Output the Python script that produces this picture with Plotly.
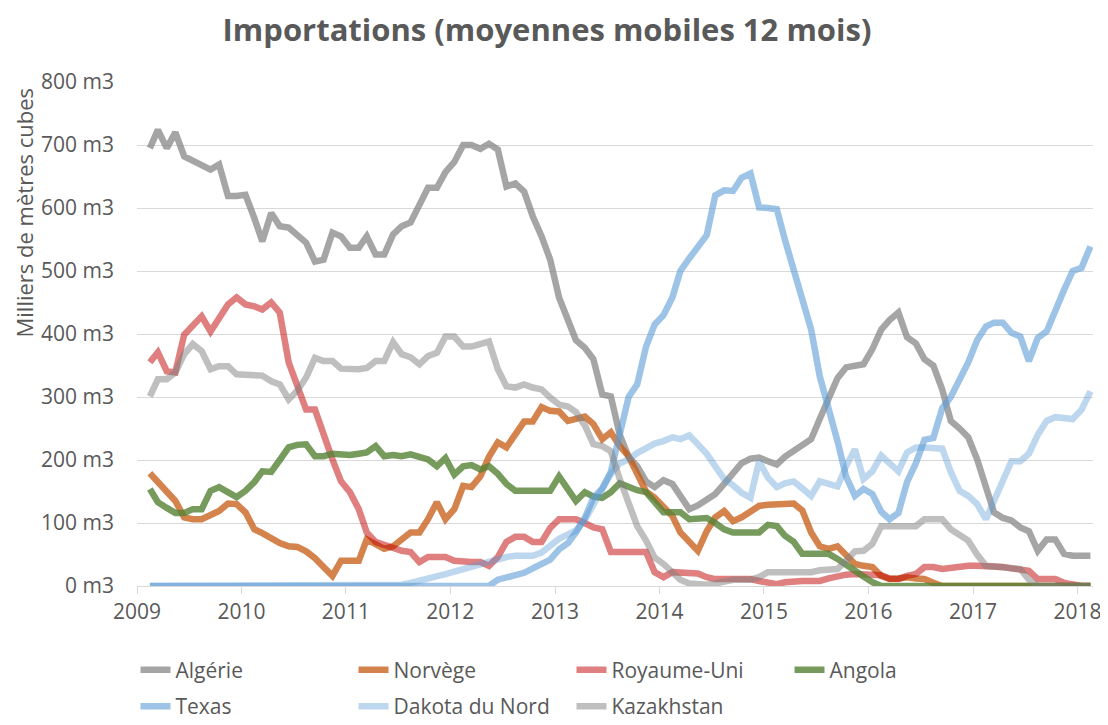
import pandas as pd
import plotly.graph_objects as go

# Monthly 12-month moving averages, Feb 2009 .. Feb 2018 (thousands of m3)
months = pd.date_range("2009-02-01", periods=109, freq="MS") + pd.Timedelta(days=14)

algerie = [695, 724, 695, 720, 682, 675, 669, 661, 669, 619, 619, 621, 584, 547, 592, 571, 569, 558, 545, 515,
           518, 561, 555, 537, 537, 555, 526, 526, 558, 571, 577, 605, 632, 632, 657, 673, 700, 700, 694, 702,
           693, 634, 639, 626, 587, 555, 518, 458, 422, 390, 378, 360, 304, 301, 240, 205, 190, 166, 157, 168,
           162, 145, 122, 128, 137, 146, 162, 178, 195, 202, 204, 198, 193, 205, 214, 222, 233, 265, 300, 330,
           347, 350, 352, 376, 407, 422, 434, 395, 385, 360, 350, 312, 262, 250, 236, 201, 154, 117, 108, 104,
           93, 87, 56, 74, 74, 51, 48, 48, 48]
norvege = [179, 165, 149, 135, 109, 106, 106, 114, 119, 131, 130, 117, 90, 84, 76, 68, 63, 62, 55, 44,
           30, 16, 40, 40, 40, 74, 67, 59, 63, 74, 85, 85, 106, 133, 106, 122, 159, 157, 174, 205,
           228, 220, 240, 261, 261, 284, 278, 277, 262, 265, 269, 257, 233, 244, 222, 206, 180, 150, 140, 127,
           111, 85, 70, 56, 87, 109, 119, 103, 109, 119, 127, 129, 130, 131, 131, 120, 85, 63, 59, 63,
           48, 35, 32, 30, 16, 11, 12, 14, 12, 11, 5, 0, 0, 0, 0, 0, 0, 0, 0, 0,
           0, 0, 0, 0, 0, 0, 0, 0, 0]
royaume_uni = [355, 371, 341, 339, 399, 415, 428, 404, 423, 447, 458, 447, 444, 439, 450, 434, 355, 315, 280, 280,
               238, 201, 166, 149, 122, 85, 70, 65, 62, 56, 54, 38, 46, 46, 46, 40, 38, 38, 38, 32,
               46, 70, 78, 78, 70, 70, 92, 106, 106, 106, 100, 93, 90, 54, 54, 54, 54, 54, 22, 14,
               22, 22, 22, 20, 14, 11, 11, 11, 11, 11, 8, 5, 3, 6, 8, 8, 8, 8, 12, 16,
               18, 19, 19, 19, 17, 12, 11, 16, 19, 30, 30, 27, 29, 32, 32, 32, 32, 32, 30, 28,
               26, 24, 11, 11, 11, 5, 2, 0, 0]
angola = [154, 133, 124, 116, 116, 122, 122, 151, 157, 150, 141, 151, 165, 182, 181, 200, 220, 224, 225, 206,
          206, 210, 209, 208, 210, 212, 222, 206, 208, 206, 209, 206, 201, 190, 203, 177, 190, 192, 185, 190,
          178, 162, 151, 151, 151, 151, 151, 174, 151, 135, 149, 142, 140, 149, 163, 157, 152, 149, 133, 117,
          117, 117, 106, 108, 108, 100, 90, 85, 85, 85, 85, 97, 95, 80, 70, 51, 51, 51, 51, 43,
          33, 24, 15, 6, 0, 0, 0, 0, 0, 0, 0, 0, 0, 0, 0, 0, 0, 0, 0, 0,
          0, 0, 0, 0, 0, 0, 0, 0, 0]
texas = [0, 0, 0, 0, 0, 0, 0, 0, 0, 0, 0, 0, 0, 0, 0, 0, 0, 0, 0, 0,
         0, 0, 0, 0, 0, 0, 0, 0, 0, 0, 0, 0, 0, 0, 0, 0, 0, 0, 0, 0,
         10, 14, 17, 21, 28, 34, 42, 58, 68, 85, 108, 140, 155, 181, 240, 300, 320, 380, 415, 430,
         458, 500, 520, 540, 557, 620, 628, 627, 648, 655, 601, 600, 598, 550, 500, 455, 407, 333, 283, 230,
         174, 143, 154, 146, 118, 106, 116, 165, 195, 232, 235, 282, 300, 328, 355, 390, 412, 418, 418, 402,
         396, 357, 394, 404, 440, 470, 500, 505, 539]
dakota = [0, 0, 0, 0, 0, 0, 0, 0, 0, 0, 0, 0, 0, 0, 0, 0, 0, 0, 0, 0,
          0, 0, 0, 0, 0, 0, 0, 0, 0, 2, 5, 8, 11, 15, 19, 23, 27, 31, 36, 40,
          43, 46, 48, 48, 48, 53, 65, 75, 82, 88, 105, 128, 155, 178, 195, 201, 211, 220, 226, 230,
          236, 233, 239, 225, 210, 190, 170, 160, 148, 140, 198, 172, 157, 163, 166, 155, 143, 166, 162, 158,
          190, 217, 170, 182, 207, 195, 182, 212, 220, 220, 220, 218, 181, 151, 143, 130, 106, 135, 170, 198,
          198, 210, 240, 262, 268, 267, 265, 280, 309]
kazakhstan = [301, 328, 328, 339, 368, 384, 373, 344, 349, 349, 336, 335, 335, 334, 325, 320, 296, 310, 331, 362,
              357, 357, 345, 344, 344, 346, 357, 357, 387, 368, 363, 352, 365, 370, 396, 396, 380, 380, 383, 388,
              344, 317, 315, 320, 315, 312, 299, 288, 285, 276, 255, 225, 222, 214, 170, 130, 95, 72, 45, 35,
              22, 10, 4, 2, 2, 4, 8, 10, 10, 10, 14, 22, 22, 22, 22, 22, 22, 25, 27, 27,
              40, 55, 56, 67, 95, 95, 95, 95, 95, 106, 106, 106, 90, 80, 72, 50, 32, 31, 30, 30,
              27, 10, 0, 0, 0, 0, 0, 0, 0]

series_names = ["Algérie", "Norvège", "Royaume-Uni", "Angola", "Texas", "Dakota du Nord", "Kazakhstan"]
series_values = [algerie, norvege, royaume_uni, angola, texas, dakota, kazakhstan]
series_colors = ["rgba(127,127,127,0.7)", "rgba(197,90,17,0.75)", "rgba(192,0,0,0.5)",
                 "rgba(84,130,53,0.8)", "rgba(91,155,213,0.6)", "rgba(91,155,213,0.4)",
                 "rgba(127,127,127,0.5)"]
legend_ids = ["legend", "legend", "legend", "legend", "legend2", "legend2", "legend2"]

FONT = "Open Sans"
TXT = "#595959"
GRID = "#D9D9D9"
FS = 21

# figure sits 8px inside the page (default body margin) -> size reduced accordingly
W, H = 1100, 717
ML, MR, MT, MB = 129, 15, 74, 139
PW, PH = W - ML - MR, H - MT - MB

fig = go.Figure()
for name, vals, col, lg in zip(series_names, series_values, series_colors, legend_ids):
    fig.add_trace(go.Scatter(x=months, y=vals, mode="lines", name=name,
                             line=dict(color=col, width=6.5), legend=lg))

legend_common = dict(orientation="h", xanchor="left", yanchor="middle",
                     entrywidth=173, entrywidthmode="pixels",
                     font=dict(family=FONT, size=FS, color=TXT),
                     bgcolor="rgba(0,0,0,0)", traceorder="normal")

fig.update_layout(
    width=W, height=H,
    paper_bgcolor="white", plot_bgcolor="white",
    margin=dict(l=ML, r=MR, t=MT, b=MB, autoexpand=False),
    font=dict(family=FONT, size=FS, color=TXT),
    title=dict(text="<b>Importations (moyennes mobiles 12 mois)</b>",
               font=dict(family=FONT, size=31, color=TXT),
               x=539 / W, xref="container", xanchor="center",
               y=1 - 22 / H, yref="container", yanchor="middle"),
    legend=dict(x=-1.5 / PW, y=-(662.0 - (H - MB)) / PH, **legend_common),
    legend2=dict(x=-1.5 / PW, y=-(698.5 - (H - MB)) / PH, **legend_common),
    xaxis=dict(type="date", range=["2009-01-01", "2018-02-24"],
               tick0="2009-01-01", dtick="M12", tickformat="%Y",
               showgrid=False, zeroline=False,
               showline=True, linecolor=GRID, linewidth=1,
               ticks="outside", ticklen=7, tickcolor=GRID, tickwidth=1,
               tickfont=dict(family=FONT, size=FS, color=TXT)),
    yaxis=dict(range=[0, 800], dtick=100, tick0=0, ticksuffix=" m3",
               showgrid=True, gridcolor=GRID, gridwidth=1,
               zeroline=False, showline=False, ticks="",
               ticklabelstandoff=22,
               tickfont=dict(family=FONT, size=FS, color=TXT)),
    annotations=[dict(text="Milliers de mètres cubes", textangle=-90,
                      xref="paper", yref="paper", x=(16 - ML) / PW, y=((H - MB) - 204.5) / PH,
                      xanchor="center", yanchor="middle", showarrow=False,
                      font=dict(family=FONT, size=22, color=TXT))],
)

fig.write_html("out.html")
